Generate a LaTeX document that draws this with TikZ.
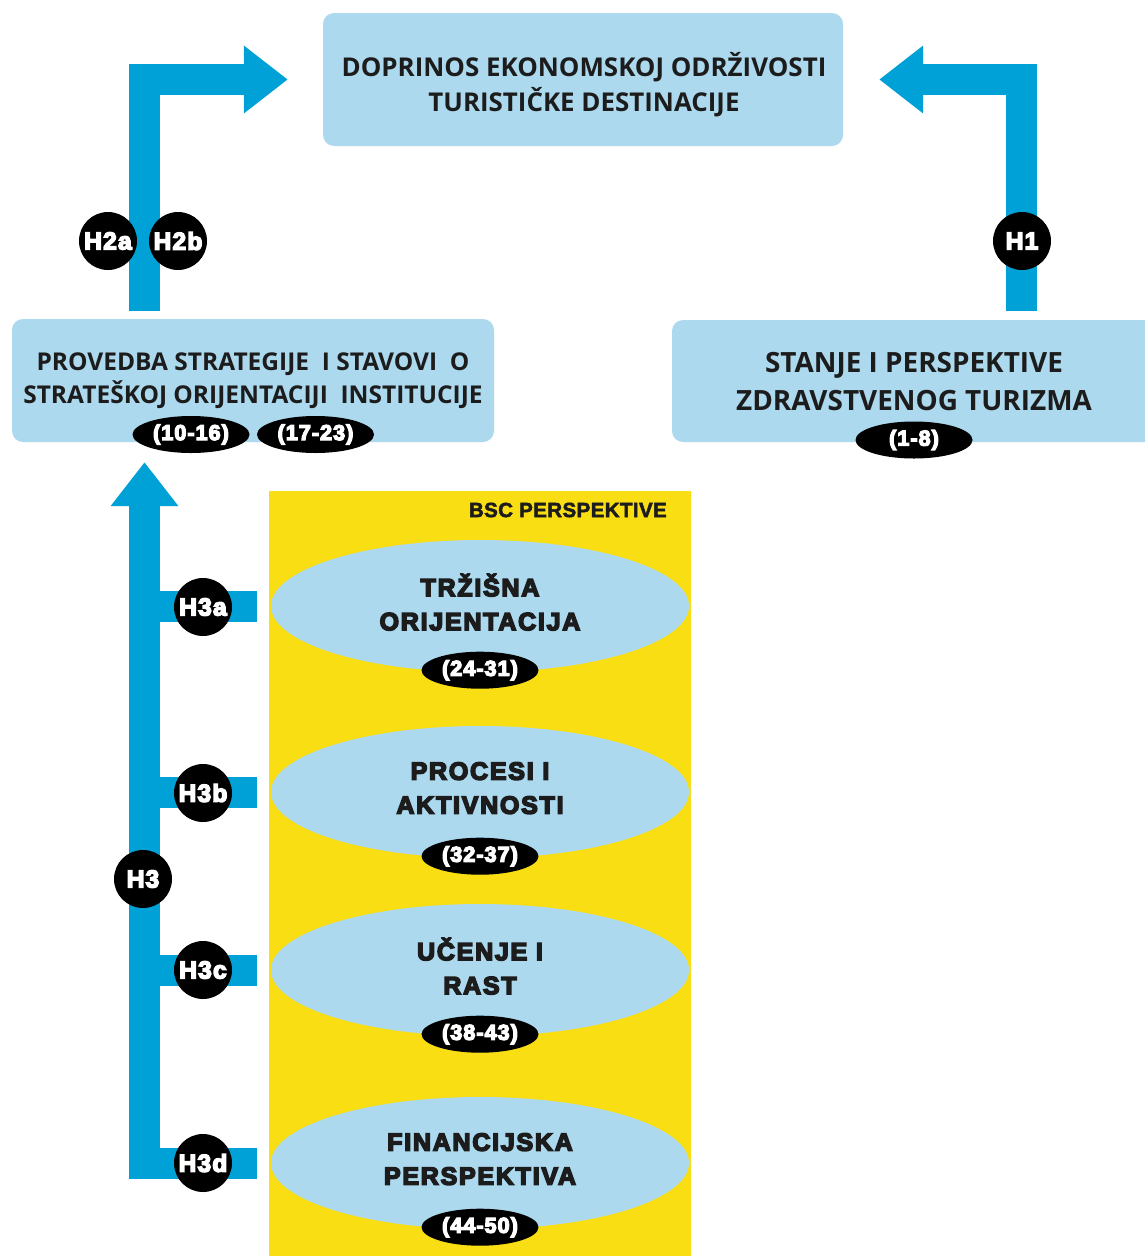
\documentclass[tikz,border=0pt]{standalone}
\usepackage{fontspec}
\setmainfont{Open Sans}
\newfontfamily\boxfont{Open Sans}
\newfontfamily\heavyfont{Liberation Sans}[FakeBold=6,LetterSpace=5]
\newfontfamily\ellfont{Liberation Sans}[FakeBold=6,LetterSpace=7]
\newfontfamily\labelfont{Liberation Sans}[FakeBold=2.5,LetterSpace=2]
\usetikzlibrary{arrows.meta,shapes.geometric}
\definecolor{boxblue}{RGB}{172,217,238}
\definecolor{arrowblue}{RGB}{0,161,214}
\definecolor{bscyellow}{RGB}{249,222,20}
\definecolor{txt}{RGB}{28,28,28}
\begin{document}
\begin{tikzpicture}[x=1pt,y=-1pt,
  box/.style={fill=boxblue, rounded corners=11pt, inner sep=0pt},
  boxtext/.style={align=center, inner sep=0pt, text=txt},
  ell/.style={ellipse, fill=boxblue, minimum width=418pt, minimum height=132pt, inner sep=0pt, align=center, text=txt,
    text depth=8pt, font=\ellfont\bfseries\fontsize{25}{34}\selectfont},
  tag/.style={ellipse, fill=black, text=white, minimum width=117pt, minimum height=37pt, inner sep=0pt,
    font=\heavyfont\bfseries\fontsize{21.5}{21.5}\selectfont},
  hyp/.style={circle, fill=black, text=white, minimum size=58pt, inner sep=0pt,
    font=\heavyfont\bfseries\fontsize{24.5}{24.5}\selectfont},
  blockarrow/.style={draw=arrowblue, line width=31pt, line join=miter, -{Triangle[length=44pt,width=65pt]}},
  bar/.style={draw=arrowblue, line width=31pt}
]
\useasboundingbox (0,0) rectangle (1145,1256);
\fill[white] (0,0) rectangle (1145,1256);

% yellow BSC panel
\node[fill=bscyellow, minimum width=422pt, minimum height=780pt, inner sep=0pt, anchor=north west] (bsc) at (269,491) {};
\node[anchor=east, inner sep=0pt, text=txt, font=\labelfont\bfseries\fontsize{20.5}{20.5}\selectfont] (bsclabel) at (667,510) {BSC PERSPEKTIVE};

% boxes
\node[box, minimum width=520pt, minimum height=133pt] (top) at (583,79.5) {};
\node[boxtext, font=\boxfont\bfseries\fontsize{25.9}{35}\selectfont] (toptext) at (584,85) {DOPRINOS EKONOMSKOJ ODRŽIVOSTI\\TURISTIČKE DESTINACIJE};

\node[box, minimum width=482pt, minimum height=123pt] (pl) at (253,380.5) {};
\node[boxtext, font=\boxfont\bfseries\fontsize{24.5}{33}\selectfont] (pltext) at (253,381) {PROVEDBA STRATEGIJE\ \ I STAVOVI\ \ O\\STRATEŠKOJ ORIJENTACIJI\ \ INSTITUCIJE};

\node[box, minimum width=490pt, minimum height=122pt] (rb) at (917,381) {};
\node[boxtext, font=\boxfont\bfseries\fontsize{27.9}{38}\selectfont] (rbtext) at (914,382) {STANJE I PERSPEKTIVE\\ZDRAVSTVENOG TURIZMA};

% ellipses
\node[ell] (e1) at (480,606) {TRŽIŠNA\\ORIJENTACIJA};
\node[ell] (e2) at (480,792) {PROCESI I\\AKTIVNOSTI};
\node[ell] (e3) at (480,970) {UČENJE I\\RAST};
\node[ell] (e4) at (480,1163) {FINANCIJSKA\\PERSPEKTIVA};

% arrow shaft positions
\coordinate (s2) at (144.5,0);
\coordinate (s1) at (1021.5,0);

% arrows
\draw[blockarrow, shorten <=8pt, shorten >=35pt] (pl.north -| s2) |- (top.west);
\draw[blockarrow, shorten <=9pt, shorten >=36pt] (rb.north -| s1) |- (top.east);
\draw[blockarrow, shorten <=14pt, shorten >=20pt] (e4.west) -| (pl.south -| s2);
\draw[bar, shorten <=14pt] (e1.west) -- (e1.west -| s2);
\draw[bar, shorten <=14pt] (e2.west) -- (e2.west -| s2);
\draw[bar, shorten <=14pt] (e3.west) -- (e3.west -| s2);

% tags
\node[tag] (t1) at (191,434.5) {(10-16)};
\node[tag] (t2) at (315.5,434.5) {(17-23)};
\node[tag] (t3) at (914,440) {(1-8)};
\node[tag] (t4) at ([yshift=2pt]e1.south) {(24-31)};
\node[tag] (t5) at ([yshift=2pt]e2.south) {(32-37)};
\node[tag] (t6) at ([yshift=2pt]e3.south) {(38-43)};
\node[tag] (t7) at ([yshift=2pt]e4.south) {(44-50)};

% hypotheses
\node[hyp] (h2a) at (108,241) {H2a};
\node[hyp] (h2b) at (178,241) {H2b};
\node[hyp] (h1) at (1022,241) {H1};
\node[hyp] (h3) at (143,879) {H3};
\node[hyp] (h3a) at (203,607) {H3a};
\node[hyp] (h3b) at (203,793) {H3b};
\node[hyp] (h3c) at (203,970) {H3c};
\node[hyp] (h3d) at (203,1163) {H3d};
\end{tikzpicture}
\end{document}
